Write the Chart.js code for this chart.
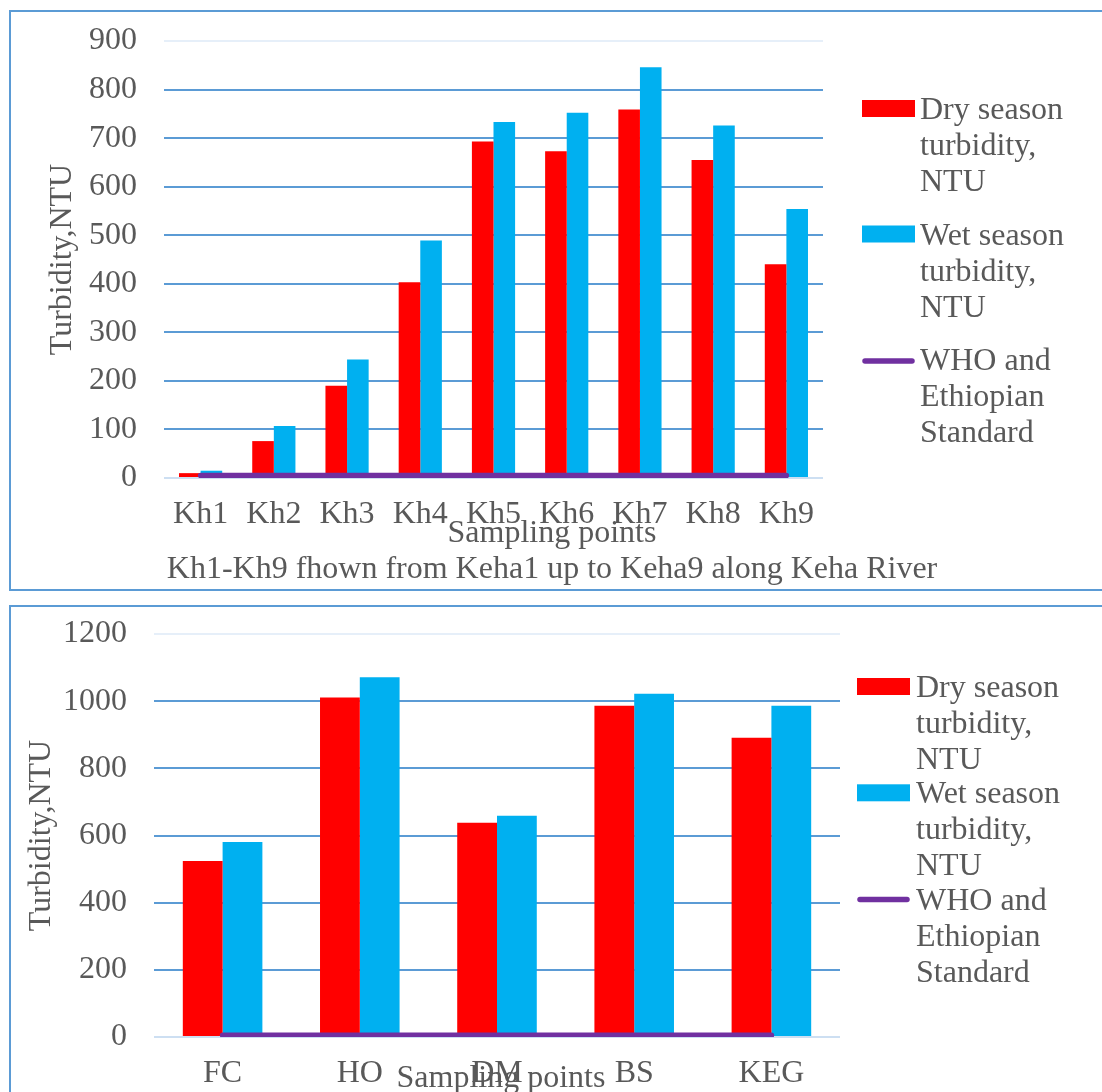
<!DOCTYPE html>
<html>
<head>
<meta charset="utf-8">
<title>Turbidity</title>
<script src="https://cdn.jsdelivr.net/npm/chart.js@4.4.1/dist/chart.umd.min.js"></script>
<style>
    html, body { margin: 0; padding: 0; background: #fff; overflow: hidden; }
    body { width: 1102px; height: 1092px; position: relative; }
    .frame { position: absolute; box-sizing: border-box; border: 2px solid #5b9bd5; }
    #frameTop { left: 9px; top: 10px; width: 1120px; height: 581px; }
    #frameBottom { left: 9px; top: 605px; width: 1120px; height: 520px; }
    canvas { position: absolute; left: 0; }
    #kehaChart { top: 0; }
    #siteChart { top: 598px; }
</style>
</head>
<body>
<div class="frame" id="frameTop"></div>
<div class="frame" id="frameBottom"></div>
<canvas id="kehaChart" width="1102" height="598"></canvas>
<canvas id="siteChart" width="1102" height="494"></canvas>

<script>
// ── Data ──

const KEHA_SITES = ["Kh1", "Kh2", "Kh3", "Kh4", "Kh5", "Kh6", "Kh7", "Kh8", "Kh9"];
const KEHA_DRY = [10, 76, 190, 403, 693, 673, 759, 655, 440];
const KEHA_WET = [15, 107, 244, 489, 733, 752, 846, 726, 554];
const KEHA_STANDARD = [5, 5, 5, 5, 5, 5, 5, 5, 5];

const SITES = ["FC", "HO", "DM", "BS", "KEG"];
const SITES_DRY = [524, 1011, 638, 986, 891];
const SITES_WET = [581, 1071, 659, 1022, 986];
const SITES_STANDARD = [5, 5, 5, 5, 5];

const LEGEND_LINES = [
    ["Dry season", "turbidity,", "NTU"],
    ["Wet season", "turbidity,", "NTU"],
    ["WHO and", "Ethiopian", "Standard"],
];

const FONT = "'Liberation Serif', 'Times New Roman', serif";
const TEXT_COLOR = "#595959";
const GRID_COLOR = "#5b9bd5";

Chart.defaults.font.family = FONT;
Chart.defaults.color = TEXT_COLOR;

// ── Legend + free captions drawn on top of the chart ──

const sideText = {
    id: "sideText",
    afterDraw(chart, args, opts) {
        const ctx = chart.ctx;
        const lg = opts.legend;
        ctx.save();
        ctx.font = `32px ${FONT}`;
        ctx.textBaseline = "alphabetic";

        chart.data.datasets.forEach((ds, i) => {
            const base = lg.top + i * lg.itemGap;
            if (ds.type === "line") {
                ctx.strokeStyle = ds.borderColor;
                ctx.lineWidth = ds.borderWidth;
                ctx.lineCap = "round";
                ctx.beginPath();
                ctx.moveTo(lg.x + 3, base + lg.lineOffset);
                ctx.lineTo(lg.x + lg.swatch - 3, base + lg.lineOffset);
                ctx.stroke();
            } else {
                ctx.fillStyle = ds.backgroundColor;
                ctx.fillRect(lg.x, base - 19, lg.swatch, 17);
            }
            ctx.fillStyle = TEXT_COLOR;
            ctx.textAlign = "left";
            LEGEND_LINES[i].forEach((t, k) => ctx.fillText(t, lg.textX, base + k * lg.lineHeight));
        });

        ctx.fillStyle = TEXT_COLOR;
        ctx.textAlign = "center";
        (opts.captions || []).forEach((c) => ctx.fillText(c.text, c.x, c.y));
        ctx.restore();
    },
};

// ── Grouped bar chart with the standard line ──

function turbidityChart(id, labels, dry, wet, standard, geom) {
    const canvas = document.getElementById(id);
    const yMax = geom.yMax;

    return new Chart(canvas.getContext("2d"), {
        type: "bar",
        data: {
            labels: labels,
            datasets: [
                {
                    type: "bar",
                    label: "Dry season turbidity, NTU",
                    data: dry,
                    backgroundColor: "#ff0000",
                    categoryPercentage: geom.catPct,
                    barPercentage: 1,
                    order: 2,
                },
                {
                    type: "bar",
                    label: "Wet season turbidity, NTU",
                    data: wet,
                    backgroundColor: "#00b0f0",
                    categoryPercentage: geom.catPct,
                    barPercentage: 1,
                    order: 2,
                },
                {
                    type: "line",
                    label: "WHO and Ethiopian Standard",
                    data: standard,
                    borderColor: "#7030a0",
                    borderWidth: 5.5,
                    borderCapStyle: "round",
                    pointRadius: 0,
                    fill: false,
                    tension: 0,
                    order: 1,
                },
            ],
        },
        options: {
            responsive: false,
            animation: false,
            events: [],
            layout: {
                padding: {
                    left: 0,
                    top: geom.top,
                    right: canvas.width - geom.right,
                    bottom: canvas.height - geom.bottom - 100,
                },
            },
            plugins: {
                legend: { display: false },
                tooltip: { enabled: false },
                sideText: { legend: geom.legend, captions: geom.captions },
            },
            scales: {
                x: {
                    ticks: { padding: 17, color: TEXT_COLOR, font: { size: 32 } },
                    grid: { display: false, drawTicks: false },
                    border: { display: false },
                    afterFit: (axis) => { axis.height = 100; },
                },
                y: {
                    min: 0,
                    max: yMax,
                    ticks: {
                        stepSize: geom.yStep,
                        padding: 0,
                        color: TEXT_COLOR,
                        font: { size: 32 },
                        callback: (v) => String(v),
                    },
                    grid: {
                        // invisible tick marks keep the labels clear of the plot
                        drawTicks: true,
                        tickLength: 27,
                        tickColor: "rgba(0,0,0,0)",
                        lineWidth: 2,
                        color: (c) => {
                            if (c.tick && c.tick.value === yMax) return "#e6eff9";
                            if (c.tick && c.tick.value === 0) return "#cddff2";
                            return GRID_COLOR;
                        },
                    },
                    border: { display: false },
                    title: {
                        display: true,
                        text: "Turbidity,NTU",
                        color: TEXT_COLOR,
                        font: { size: 32 },
                        padding: { top: geom.titlePad, bottom: 0 },
                    },
                    afterFit: (axis) => { axis.width = geom.left; },
                },
            },
        },
        plugins: [sideText],
    });
}

// Keha River points
turbidityChart("kehaChart", KEHA_SITES, KEHA_DRY, KEHA_WET, KEHA_STANDARD, {
    left: 164, right: 823, top: 41, bottom: 478,
    yMax: 900, yStep: 100, catPct: 0.59, titlePad: 43,
    legend: { x: 862, textX: 920, swatch: 53, top: 119, itemGap: 125.5, lineHeight: 36, lineOffset: -9 },
    captions: [
        { text: "Sampling points", x: 552, y: 542 },
        { text: "Kh1-Kh9 fhown from Keha1 up to Keha9 along Keha River", x: 552, y: 578 },
    ],
});

// Other sampling points
turbidityChart("siteChart", SITES, SITES_DRY, SITES_WET, SITES_STANDARD, {
    left: 154, right: 840, top: 36, bottom: 439,
    yMax: 1200, yStep: 200, catPct: 0.58, titlePad: 22,
    legend: { x: 857, textX: 916, swatch: 53, top: 99, itemGap: 106.3, lineHeight: 36, lineOffset: -10 },
    captions: [
        { text: "Sampling points", x: 501, y: 489 },
    ],
});
</script>
</body>
</html>
